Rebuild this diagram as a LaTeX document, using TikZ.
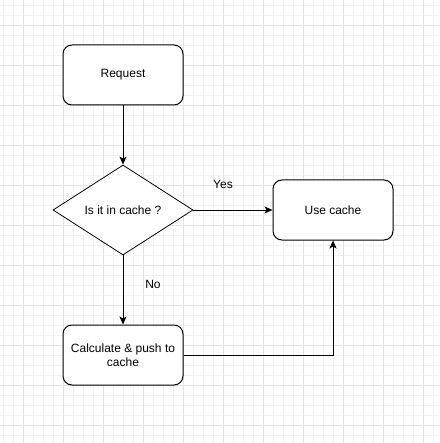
\documentclass[tikz,border=0pt]{standalone}
\usepackage{fontspec}
\setmainfont{Liberation Sans}
\usetikzlibrary{shapes.geometric,arrows.meta}
\definecolor{minorgrid}{HTML}{F2F2F2}
\definecolor{majorgrid}{HTML}{E2E2E2}
\begin{document}
\begin{tikzpicture}[x=1pt,y=-1pt,
  box/.style={draw, line width=1pt, rounded corners=9pt, minimum width=120pt, minimum height=60pt, align=center, font=\fontsize{12pt}{14pt}\selectfont, inner sep=2pt, fill=white},
  decision/.style={draw, line width=0.8pt, diamond, minimum width=140pt, minimum height=90pt, inner sep=0pt, font=\fontsize{12pt}{14pt}\selectfont, fill=white},
  lbl/.style={font=\fontsize{12pt}{14pt}\selectfont, inner sep=0pt},
  arr/.style={line width=1pt, -{Stealth[length=8pt,width=7pt,inset=2pt]}}]
\useasboundingbox (0,0) rectangle (439,443);
\fill[white] (0,0) rectangle (439,443);
\foreach \x in {3,13,...,433} \draw[minorgrid, line width=0.8pt] (\x,0) -- (\x,443);
\foreach \y in {5,15,...,435} \draw[minorgrid, line width=0.8pt] (0,\y) -- (439,\y);
\foreach \x in {23,63,...,423} \draw[majorgrid, line width=0.8pt] (\x,0) -- (\x,443);
\foreach \y in {25,65,...,425} \draw[majorgrid, line width=0.8pt] (0,\y) -- (439,\y);

\node[box] (req) at (123,75) {Request};
\node[decision] (dec) at (123,210) {Is it in cache ?};
\node[box] (use) at (333,210) {Use cache};
\node[box] (calc) at (123,355) {Calculate \& push to\\cache};

\draw[arr] (req.south) -- (dec.north);
\draw[arr] (dec.east) -- (use.west);
\draw[arr] (dec.south) -- (calc.north);
\draw[arr] (calc.east) -| (use.south);

\node[lbl] (yes) at (223,184) {Yes};
\node[lbl] (no) at (153,284) {No};
\end{tikzpicture}
\end{document}
